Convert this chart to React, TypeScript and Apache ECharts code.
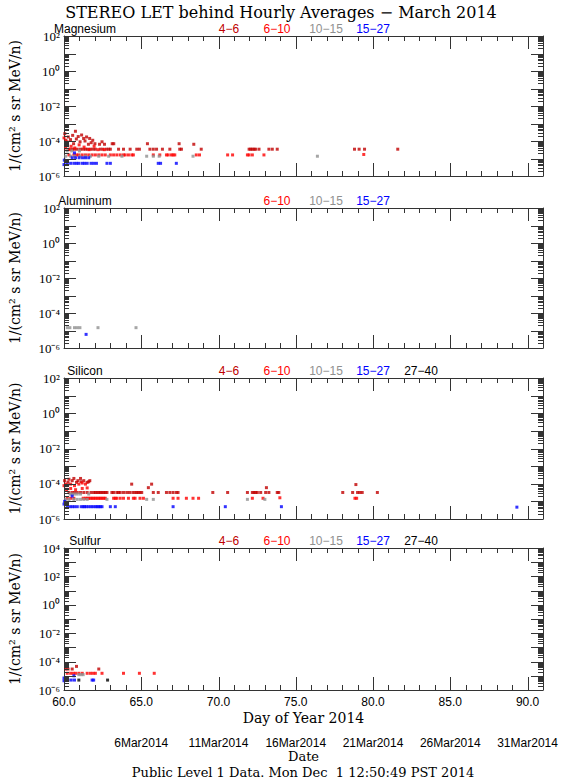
import React, { useEffect, useRef } from 'react';
import * as echarts from 'echarts';

const TITLE = 'STEREO LET behind Hourly Averages \u2212 March 2014';
const FOOTER = 'Public Level 1 Data. Mon Dec  1 12:50:49 PST 2014';
const Y_NAME = '1/(cm\u00B2 s sr MeV/n)';
const X_NAME = 'Day of Year 2014';
const DATE_NAME = 'Date';

const channels = ['4-6', '6-10', '10-15', '15-27', '27-40'];
const channelColors = ['#c00000', '#ff0000', '#909090', '#0000ff', '#000000'];
const dayTicks = [60, 65, 70, 75, 80, 85, 90];
const dateLabels = ['', '6Mar2014', '11Mar2014', '16Mar2014', '21Mar2014', '26Mar2014', '31Mar2014'];
const elements = ['Magnesium', 'Aluminum', 'Silicon', 'Sulfur'];
const panelLegends = [[0, 1, 2, 3], [1, 2, 3], [0, 1, 2, 3, 4], [0, 1, 2, 3, 4]];
const yMinVal = [1e-6, 1e-6, 1e-6, 1e-6];
const yMaxVal = [1e2, 1e2, 1e2, 1e4];
const X_MIN = 60;
const X_MAX = 91;

// ---------- Magnesium ----------
const mg46 = [
  [60.05, 2.6e-4], [60.12, 1.1e-4], [60.18, 7e-5], [60.28, 1.7e-4], [60.32, 3.4e-5], [60.42, 1.2e-4],
  [60.53, 3.4e-5], [60.56, 2.1e-4], [60.62, 7e-5], [60.68, 3.4e-5], [60.74, 3.6e-4], [60.8, 1.3e-4],
  [60.86, 3.4e-5], [60.92, 1.8e-4], [61.04, 9e-5], [61.07, 3.4e-5], [61.14, 2.2e-4], [61.24, 3.4e-5],
  [61.27, 1.4e-4], [61.36, 1.0e-4], [61.39, 3.4e-5], [61.46, 1.7e-4], [61.54, 3.4e-5], [61.58, 6.5e-5],
  [61.66, 1.4e-4], [61.71, 3.4e-5], [61.76, 8e-5], [61.86, 1.1e-4], [61.88, 3.4e-5], [62.0, 7e-5],
  [62.03, 3.4e-5], [62.3, 6.5e-5], [62.35, 3.4e-5], [62.46, 9e-5], [62.52, 3.4e-5], [62.62, 6.5e-5],
  [62.74, 3.4e-5], [62.89, 3.4e-5], [63.0, 3.4e-5], [63.12, 7e-5], [63.22, 7e-5], [63.53, 3.4e-5],
  [63.85, 3.4e-5], [64.28, 3.4e-5], [64.71, 3.4e-5], [64.88, 3.4e-5], [65.4, 7e-5], [65.56, 3.4e-5],
  [65.78, 3.4e-5], [65.99, 3.4e-5], [66.37, 3.4e-5], [66.85, 3.4e-5], [67.45, 7e-5], [67.49, 3.4e-5],
  [67.6, 3.4e-5], [68.4, 6.5e-5], [68.88, 3.4e-5], [71.98, 3.4e-5], [72.08, 3.4e-5], [72.19, 3.4e-5],
  [72.3, 3.4e-5], [72.4, 3.4e-5], [72.62, 3.4e-5], [73.26, 3.4e-5], [73.48, 3.4e-5], [73.8, 3.4e-5],
  [78.8, 3.4e-5], [79.1, 3.4e-5], [79.45, 3.4e-5], [81.6, 3.4e-5],
];
const mg610 = [
  [60.0, 1.5e-4], [60.1, 4e-5], [60.2, 9e-5], [60.32, 1.6e-5], [60.36, 3.2e-5], [60.46, 5e-5],
  [60.64, 1.6e-5], [60.7, 4e-5], [60.81, 1.6e-5], [60.96, 1.6e-5], [60.98, 6e-5], [61.18, 1.6e-5],
  [61.3, 4.5e-5], [61.39, 1.6e-5], [61.6, 1.6e-5], [61.62, 3.2e-5], [61.82, 1.6e-5], [61.95, 5e-5],
  [62.03, 1.6e-5], [62.2, 3.2e-5], [62.25, 1.6e-5], [62.46, 1.6e-5], [62.6, 3.2e-5], [62.67, 1.6e-5],
  [63.0, 1.6e-5], [63.21, 1.6e-5], [63.42, 1.6e-5], [63.64, 1.6e-5], [63.85, 1.6e-5], [63.96, 1.6e-5],
  [64.17, 1.6e-5], [64.39, 1.6e-5], [64.49, 1.6e-5], [65.78, 1.6e-5], [66.2, 1.6e-5], [66.63, 1.6e-5],
  [66.74, 1.6e-5], [66.95, 1.6e-5], [67.06, 1.6e-5], [67.17, 1.6e-5], [68.56, 1.6e-5], [68.77, 1.6e-5],
  [70.59, 1.6e-5], [70.91, 1.6e-5], [71.87, 1.6e-5], [71.98, 1.6e-5], [72.19, 1.6e-5], [72.94, 1.6e-5],
  [79.4, 1.7e-5],
];
const mg1015 = [
  [60.11, 1.35e-5], [60.2, 2.7e-5], [60.43, 1.35e-5], [60.5, 2.7e-5], [60.68, 1.35e-5], [61.0, 2.7e-5],
  [61.03, 1.35e-5], [61.39, 1.35e-5], [61.71, 1.35e-5], [62.25, 1.35e-5], [62.89, 1.35e-5], [63.75, 1.35e-5],
  [65.35, 1.35e-5], [65.78, 1.35e-5], [66.16, 1.35e-5], [68.35, 1.35e-5], [76.4, 1.35e-5],
];
const mg1527 = [
  [60.0, 4.5e-6], [60.02, 8e-6], [60.21, 5.3e-6], [60.43, 5.3e-6], [60.53, 1.1e-5], [60.64, 5.3e-6],
  [60.68, 2.1e-5], [60.75, 1.1e-5], [60.81, 5.3e-6], [60.96, 5.3e-6], [60.98, 1.1e-5], [61.18, 5.3e-6],
  [61.2, 1.1e-5], [61.33, 5.3e-6], [61.39, 1.1e-5], [61.5, 5.3e-6], [61.6, 1.1e-5], [61.75, 5.3e-6],
  [61.92, 5.3e-6], [62.1, 5.3e-6], [62.78, 5.3e-6], [63.0, 5.3e-6], [66.1, 5.3e-6], [66.25, 5.3e-6],
  [67.27, 5.3e-6],
];

// ---------- Aluminum ----------
const al1015 = [
  [60.21, 1.45e-5], [60.38, 1.45e-5], [60.68, 1.45e-5], [60.86, 1.45e-5], [61.03, 1.45e-5],
  [62.2, 1.45e-5], [64.66, 1.45e-5],
];
const al1527 = [[61.43, 6e-6]];

// ---------- Silicon ----------
const si46 = [
  [60.04, 1.5e-4], [60.26, 1.2e-4], [60.32, 1.8e-4], [60.53, 1.5e-4], [60.64, 2.0e-4], [60.81, 1.2e-4],
  [60.9, 1.5e-4], [61.07, 2.0e-4], [61.11, 1.3e-4], [61.28, 1.5e-4], [61.5, 1.2e-4], [61.6, 1.3e-4],
  [61.67, 1.5e-4],
  [60.32, 3.2e-5], [60.53, 3.2e-5], [60.68, 3.2e-5], [60.86, 3.2e-5], [61.07, 3.2e-5], [61.28, 3.2e-5],
  [61.5, 3.2e-5], [61.75, 3.2e-5], [61.92, 3.2e-5], [62.03, 3.2e-5], [62.14, 3.2e-5], [62.25, 3.2e-5],
  [62.35, 3.2e-5], [62.46, 3.2e-5], [62.57, 3.2e-5], [62.67, 3.2e-5], [62.78, 3.2e-5], [63.1, 3.2e-5],
  [63.21, 3.2e-5], [63.42, 3.2e-5], [63.53, 3.2e-5], [63.64, 3.2e-5], [63.85, 3.2e-5], [64.06, 3.2e-5],
  [64.24, 3.2e-5], [64.45, 3.2e-5], [64.6, 3.2e-5], [64.71, 3.2e-5], [64.81, 3.2e-5], [64.92, 3.2e-5],
  [65.03, 3.2e-5], [65.78, 3.2e-5], [66.1, 3.2e-5], [66.63, 3.2e-5], [66.85, 3.2e-5], [67.06, 3.2e-5],
  [67.27, 3.2e-5], [67.38, 3.2e-5], [69.63, 3.2e-5], [70.59, 3.2e-5], [71.87, 3.2e-5], [72.19, 3.2e-5],
  [72.3, 3.2e-5], [72.4, 3.2e-5], [72.51, 3.2e-5], [72.73, 3.2e-5], [73.05, 3.2e-5], [73.26, 3.2e-5],
  [73.8, 3.2e-5], [73.9, 3.2e-5], [78.04, 3.2e-5], [78.68, 3.2e-5], [79.0, 3.2e-5], [79.15, 3.2e-5],
  [79.3, 3.2e-5], [80.28, 3.2e-5],
  [64.38, 9.5e-5], [65.67, 9.5e-5], [65.46, 6e-5], [73.1, 6e-5], [78.89, 9e-5],
];
const si610 = [
  [60.0, 7.8e-5], [60.11, 9.5e-5], [60.17, 7.8e-5], [60.17, 4.6e-5], [60.43, 9.5e-5], [60.43, 5.4e-5],
  [60.68, 7.8e-5], [60.75, 4.6e-5], [60.96, 9.5e-5], [61.18, 1.1e-4], [61.18, 5.4e-5], [61.39, 9.5e-5],
  [61.5, 5.8e-5],
  [60.21, 1.5e-5], [60.43, 1.5e-5], [60.64, 1.5e-5], [61.24, 1.5e-5], [61.39, 1.5e-5], [61.5, 1.5e-5],
  [61.6, 1.5e-5], [61.71, 1.5e-5], [61.82, 1.5e-5], [61.92, 1.5e-5], [62.03, 1.5e-5], [62.14, 1.5e-5],
  [62.25, 1.5e-5], [62.35, 1.5e-5], [62.46, 1.5e-5], [62.57, 1.5e-5], [62.67, 1.5e-5], [63.21, 1.5e-5],
  [63.32, 1.5e-5], [63.42, 1.5e-5], [63.64, 1.5e-5], [63.85, 1.5e-5], [64.17, 1.5e-5], [64.49, 1.5e-5],
  [64.6, 1.5e-5], [64.92, 1.5e-5], [65.14, 1.5e-5], [67.06, 1.5e-5], [67.38, 1.5e-5], [67.92, 1.5e-5],
  [68.35, 1.5e-5], [68.71, 1.5e-5], [72.19, 1.5e-5], [72.88, 1.5e-5], [73.97, 1.6e-5], [78.83, 1.5e-5],
  [78.94, 1.5e-5],
];
const si1015 = [
  [60.11, 1.3e-5], [60.32, 1.3e-5], [60.64, 1.3e-5], [60.86, 1.3e-5], [61.07, 1.3e-5], [61.28, 1.3e-5],
  [61.5, 1.3e-5], [62.78, 1.3e-5], [65.35, 1.3e-5], [65.78, 1.3e-5], [71.87, 1.3e-5], [73.0, 1.3e-5],
  [60.39, 2.6e-5], [60.53, 2.6e-5], [60.68, 2.6e-5], [60.86, 2.6e-5], [61.07, 2.6e-5], [61.6, 2.6e-5],
];
const si1527 = [
  [60.0, 7e-6], [60.04, 1e-5], [60.53, 2e-5],
  [60.21, 5e-6], [60.39, 5e-6], [60.53, 5e-6], [60.68, 5e-6], [60.86, 5e-6], [61.11, 5e-6], [61.24, 5e-6],
  [61.33, 5e-6], [61.45, 5e-6], [61.6, 5e-6], [61.75, 5e-6], [61.88, 5e-6], [62.03, 5e-6], [62.14, 5e-6],
  [62.25, 5e-6], [62.35, 5e-6], [62.46, 5e-6], [63.0, 5e-6], [63.32, 5e-6], [67.06, 5e-6], [70.44, 5e-6],
  [74.07, 5e-6], [89.31, 4.7e-6],
];

// ---------- Sulfur ----------
const s46 = [[60.11, 3e-5], [60.26, 3e-5], [60.53, 3e-5], [60.81, 4.6e-5], [62.25, 3e-5]];
const s610 = [
  [60.21, 1.5e-5], [60.43, 1.5e-5], [60.6, 1.5e-5], [60.75, 1.5e-5], [60.96, 1.5e-5], [61.18, 1.5e-5],
  [61.5, 1.5e-5], [61.71, 1.5e-5], [61.88, 1.5e-5], [62.03, 1.5e-5], [62.46, 1.5e-5], [63.85, 1.5e-5],
  [64.88, 1.5e-5], [65.84, 1.5e-5],
];
const s1015 = [[60.96, 1.2e-5], [61.11, 1.2e-5], [61.24, 1.2e-5]];
const s1527 = [
  [60.0, 7e-6], [60.0, 4.5e-6], [60.11, 5e-6], [60.26, 5e-6], [60.47, 5e-6], [60.64, 1e-5],
  [60.68, 5e-6], [61.82, 5e-6], [61.92, 5e-6],
];
const s2740 = [[60.96, 5e-6], [62.82, 5e-6]];

const panelSeries: number[][][][] = [
  [mg46, mg610, mg1015, mg1527, []],
  [[], [], al1015, al1527, []],
  [si46, si610, si1015, si1527, []],
  [s46, s610, s1015, s1527, s2740],
];

const gridTops = [36, 208, 378, 548];
const gridHeights = [140, 140, 141, 142];
const legendX = [229, 277, 326, 373, 421];
const AX = '#333333';
const SERIF = 'DejaVu Serif';
const SANS = 'Liberation Sans';
const SUP: Record<string, string> = {
  '-': '\u207B', '0': '\u2070', '1': '\u00B9', '2': '\u00B2', '3': '\u00B3',
  '4': '\u2074', '5': '\u2075', '6': '\u2076', '7': '\u2077', '8': '\u2078', '9': '\u2079',
};

function expOf(v: number) {
  return Math.round(Math.log10(v));
}
function supText(n: number) {
  return String(n).split('').map((ch) => SUP[ch] || ch).join('');
}

// Box-style ticks on all four sides, positioned through the axes' own scales.
function tickSeries(i: number, xIdx: number, yIdx: number) {
  const minE = expOf(yMinVal[i]);
  const maxE = expOf(yMaxVal[i]);
  return {
    type: 'custom',
    xAxisIndex: xIdx,
    yAxisIndex: yIdx,
    silent: true,
    clip: false,
    z: 5,
    data: [[X_MIN, yMinVal[i]]],
    renderItem: (_params: any, api: any) => {
      const bl = api.coord([X_MIN, yMinVal[i]]);
      const tr = api.coord([X_MAX, yMaxVal[i]]);
      const style = { stroke: AX, lineWidth: 1 };
      const children: any[] = [];
      for (let d = X_MIN + 1; d < X_MAX; d++) {
        const len = d % 5 === 0 ? 13 : 5;
        const x = Math.round(api.coord([d, yMinVal[i]])[0]) + 0.5;
        children.push({ type: 'line', shape: { x1: x, y1: bl[1], x2: x, y2: bl[1] - len }, style });
        children.push({ type: 'line', shape: { x1: x, y1: tr[1], x2: x, y2: tr[1] + len }, style });
      }
      for (let e = minE; e <= maxE; e++) {
        for (let k = 1; k <= 9; k++) {
          if (e === maxE && k > 1) break;
          const len = k === 1 ? 12 : 5;
          const y = Math.round(api.coord([X_MIN, k * Math.pow(10, e)])[1]) + 0.5;
          children.push({ type: 'line', shape: { x1: bl[0], y1: y, x2: bl[0] + len, y2: y }, style });
          children.push({ type: 'line', shape: { x1: tr[0], y1: y, x2: tr[0] - len, y2: y }, style });
        }
      }
      return { type: 'group', children };
    },
  };
}

function buildOption() {
  const option: any = {
    animation: false,
    backgroundColor: '#ffffff',
    grid: [],
    xAxis: [],
    yAxis: [],
    series: [],
    graphic: [],
  };

  gridTops.forEach((top, i) => {
    option.grid.push({ left: 60, top, width: 483, height: gridHeights[i], containLabel: false });

    const xMainIndex = option.xAxis.length;
    ['bottom', 'top'].forEach((pos) => {
      const labelled = pos === 'bottom' && i === 3;
      option.xAxis.push({
        type: 'value', gridIndex: i, min: X_MIN, max: X_MAX, position: pos,
        axisLine: { show: true, onZero: false, lineStyle: { color: AX, width: 1 } },
        axisTick: { show: false },
        splitLine: { show: false },
        axisLabel: {
          show: labelled, customValues: dayTicks, formatter: (v: number) => v.toFixed(1),
          fontFamily: SANS, fontSize: 12, color: '#000', margin: 6,
        },
        name: labelled ? X_NAME : '', nameLocation: 'middle', nameGap: 21,
        nameTextStyle: { fontFamily: SERIF, fontSize: 14, color: '#000' },
      });
    });
    if (i === 3) {
      option.xAxis.push({
        type: 'value', gridIndex: i, min: X_MIN, max: X_MAX, position: 'bottom', offset: 40,
        axisLine: { show: false, onZero: false }, axisTick: { show: false }, splitLine: { show: false },
        axisLabel: {
          customValues: dayTicks.slice(1),
          formatter: (v: number) => dateLabels[dayTicks.indexOf(v)] || '',
          fontFamily: SANS, fontSize: 12, color: '#000', margin: 7,
        },
        name: DATE_NAME, nameLocation: 'middle', nameGap: 19,
        nameTextStyle: { fontFamily: SERIF, fontSize: 13, color: '#000' },
      });
    }

    const yMainIndex = option.yAxis.length;
    option.yAxis.push({
      type: 'log', logBase: 10, gridIndex: i, min: yMinVal[i], max: yMaxVal[i], interval: 1, position: 'left',
      axisLine: { show: true, onZero: false, lineStyle: { color: AX, width: 1 } },
      axisTick: { show: false },
      splitLine: { show: false },
      axisLabel: {
        margin: 4,
        formatter: (v: number) => {
          const e = expOf(v);
          return e % 2 === 0 ? '10' + supText(e) : '';
        },
        fontFamily: 'Liberation Serif', fontSize: 13, color: '#000',
      },
      name: Y_NAME, nameLocation: 'middle', nameGap: 42, nameRotate: 90,
      nameTextStyle: { fontFamily: SERIF, fontSize: 14, color: '#000' },
    });
    option.yAxis.push({
      type: 'value', gridIndex: i, min: 0, max: 1, position: 'right',
      axisLine: { show: true, onZero: false, lineStyle: { color: AX, width: 1 } },
      axisTick: { show: false }, splitLine: { show: false }, axisLabel: { show: false },
    });

    option.series.push(tickSeries(i, xMainIndex, yMainIndex));

    panelSeries[i].forEach((data, c) => {
      if (!data.length) return;
      option.series.push({
        type: 'scatter', name: elements[i] + ' ' + channels[c],
        xAxisIndex: xMainIndex, yAxisIndex: yMainIndex,
        data, symbol: 'rect', symbolSize: 3,
        itemStyle: { color: channelColors[c] },
        silent: true,
      });
    });

    option.graphic.push({
      type: 'text', x: 85, y: top - 7,
      style: { text: elements[i], fontFamily: SANS, fontSize: 12, fill: '#000', align: 'center', verticalAlign: 'middle' },
    });
    panelLegends[i].forEach((c) => {
      option.graphic.push({
        type: 'text', x: legendX[c], y: top - 7,
        style: { text: channels[c].replace('-', '\u2212'), fontFamily: SANS, fontSize: 12, fill: channelColors[c], align: 'center', verticalAlign: 'middle' },
      });
    });
  });

  option.graphic.push({
    type: 'text', x: 281, y: 12,
    style: { text: TITLE, fontFamily: SERIF, fontSize: 16, fill: '#000', align: 'center', verticalAlign: 'middle' },
  });
  option.graphic.push({
    type: 'text', x: 303, y: 772,
    style: { text: FOOTER, fontFamily: SERIF, fontSize: 13, fill: '#000', align: 'center', verticalAlign: 'middle' },
  });
  return option;
}

export default function App() {
  const ref = useRef<HTMLDivElement>(null);
  useEffect(() => {
    if (!ref.current) return;
    const chart = echarts.init(ref.current, undefined, { renderer: 'svg' });
    chart.setOption(buildOption());
    return () => chart.dispose();
  }, []);
  return (
    <div
      ref={ref}
      style={{ position: 'absolute', left: 0, top: 0, width: 563, height: 778, background: '#fff' }}
    />
  );
}
